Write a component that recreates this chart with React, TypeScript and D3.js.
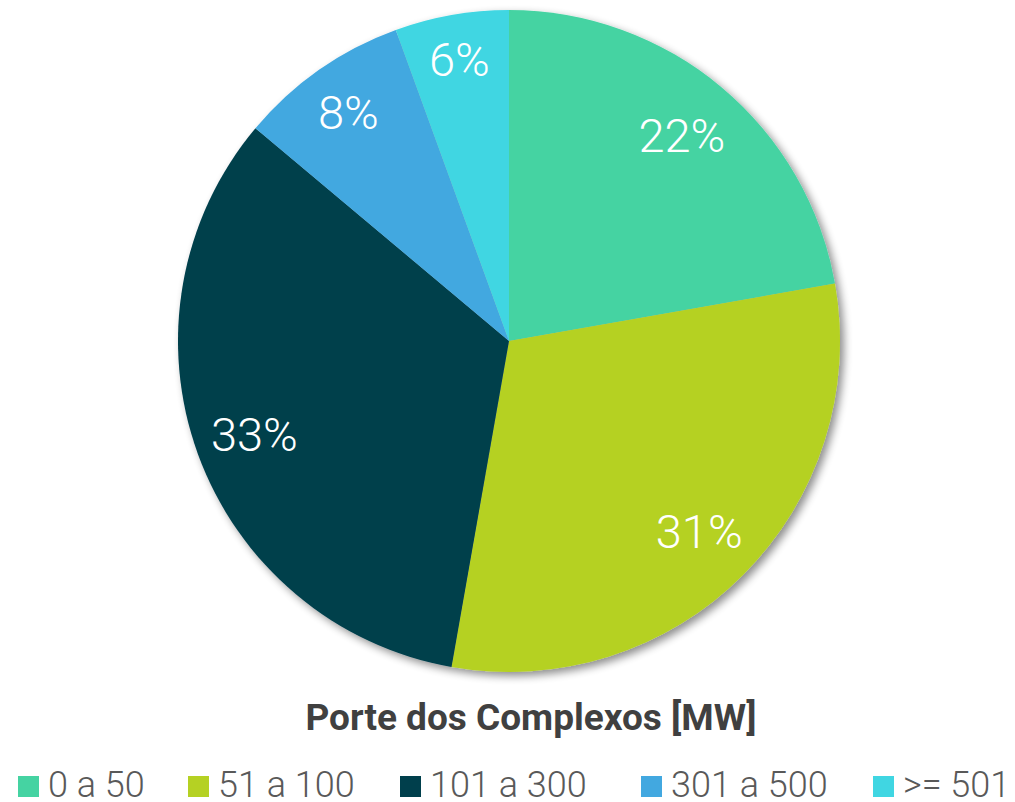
import React from "react";
import * as d3 from "d3";

const categories = ["0 a 50", "51 a 100", "101 a 300", "301 a 500", ">= 501"];
const values = [8, 11, 12, 3, 2];
const labels = ["22%", "31%", "33%", "8%", "6%"];
const colors = ["#45D3A2", "#B5D123", "#003F4C", "#42A8E0", "#40D6E2"];
const title = "Porte dos Complexos [MW]";

export default function App() {
  const W = 1015, H = 802;
  const cx = 509, cy = 341, R = 331;
  const legendX = [18, 188, 400, 641, 873];
  const labelR = [269, 269, 271, 280, 286];
  const pie = d3.pie<number>().sort(null).value((d) => d)(values);
  const arc = d3.arc<d3.PieArcDatum<number>>().innerRadius(0).outerRadius(R);
  return (
    <svg width={W} height={H} style={{ position: "absolute", left: 0, top: 0 }}>
      <defs>
        <filter id="sh" x="-10%" y="-10%" width="120%" height="120%">
          <feGaussianBlur in="SourceAlpha" stdDeviation="4" />
          <feOffset dx="4" dy="4" result="b" />
          <feComponentTransfer><feFuncA type="linear" slope="0.45" /></feComponentTransfer>
          <feMerge><feMergeNode /><feMergeNode in="SourceGraphic" /></feMerge>
        </filter>
      </defs>
      <rect width={W} height={H} fill="#fff" />
      <g transform={`translate(${cx},${cy})`}>
        <g filter="url(#sh)">
          {pie.map((p, i) => (
            <path key={i} d={arc(p) || ""} fill={colors[i]} />
          ))}
        </g>
        {pie.map((p, i) => {
          const la = d3.arc<d3.PieArcDatum<number>>().innerRadius(labelR[i]).outerRadius(labelR[i]);
          const [x, y] = la.centroid(p);
          return (
            <text key={i} x={x} y={y} dy="0.36em" textAnchor="middle" fill="#fff"
              fontFamily="Roboto" fontWeight={300} fontSize={47}>{labels[i]}</text>
          );
        })}
      </g>
      <text x={531} y={730} textAnchor="middle" fontFamily="Roboto" fontWeight={700} fontSize={37} fill="#404040">{title}</text>
      {categories.map((c, i) => (
        <g key={i}>
          <rect x={legendX[i]} y={776} width={21} height={21} fill={colors[i]} />
          <text x={legendX[i] + 30} y={797} fontFamily="Roboto" fontWeight={300} fontSize={36} fill="#595959">{c}</text>
        </g>
      ))}
    </svg>
  );
}
